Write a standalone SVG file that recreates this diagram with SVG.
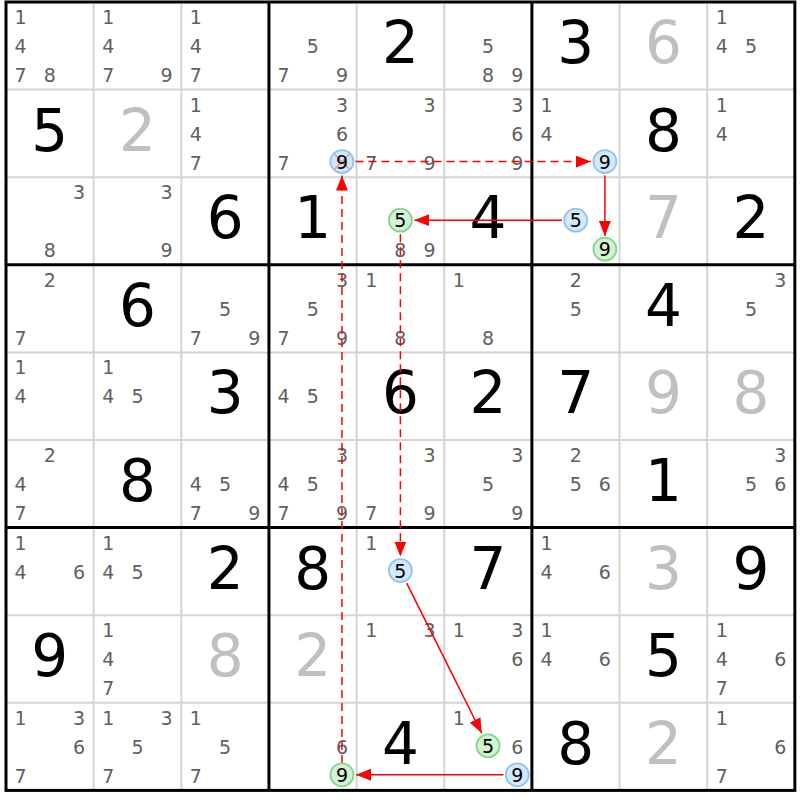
<svg xmlns="http://www.w3.org/2000/svg" width="800" height="800" viewBox="0 0 800 800">
<style>
text{font-family:"DejaVu Sans","Liberation Sans",sans-serif;text-anchor:middle}
.c{font-size:19px;fill:#5f5f5f}
.g{font-size:58px;fill:#000}
.s{font-size:58px;fill:#c0c0c0}
.k{font-size:19px;fill:#000}
.thin{stroke:#d4d4d4;stroke-width:2}
.thick{stroke:#000;stroke-width:3;fill:none}
.ln{stroke:#ff0000;stroke-width:1.5;fill:none;marker-end:url(#ah)}
.dash{stroke-dasharray:8 5}
.blue{fill:#d2e8fb;stroke:#8fc3f2;stroke-width:1.8}
.green{fill:#d2f2d2;stroke:#7fd68c;stroke-width:1.8}
.x{stroke:#f09a9a;stroke-width:1.5}
</style>
<defs>
<marker id="ah" markerUnits="userSpaceOnUse" markerWidth="15" markerHeight="12" refX="15" refY="6" orient="auto">
<path d="M0,0 L15,6 L0,12 z" fill="#ff0000"/>
</marker>
</defs>
<rect width="800" height="800" fill="#fff"/>
<g id="grid">
<g class="thin">
<line x1="93.65" y1="2" x2="93.65" y2="790.4"/><line x1="181.3" y1="2" x2="181.3" y2="790.4"/>
<line x1="356.6" y1="2" x2="356.6" y2="790.4"/><line x1="444.25" y1="2" x2="444.25" y2="790.4"/>
<line x1="619.55" y1="2" x2="619.55" y2="790.4"/><line x1="707.2" y1="2" x2="707.2" y2="790.4"/>
<line x1="6" y1="89.6" x2="794.85" y2="89.6"/><line x1="6" y1="177.2" x2="794.85" y2="177.2"/>
<line x1="6" y1="352.4" x2="794.85" y2="352.4"/><line x1="6" y1="440" x2="794.85" y2="440"/>
<line x1="6" y1="615.2" x2="794.85" y2="615.2"/><line x1="6" y1="702.8" x2="794.85" y2="702.8"/>
</g>
<g class="thick">
<line x1="268.95" y1="2" x2="268.95" y2="790.4"/><line x1="531.9" y1="2" x2="531.9" y2="790.4"/>
<line x1="6" y1="264.8" x2="794.85" y2="264.8"/><line x1="6" y1="527.6" x2="794.85" y2="527.6"/>
<rect x="6" y="2" width="788.85" height="788.4"/>
</g>
</g>
<!-- Row 1 -->
<g id="r1c1" transform="translate(6,2)"><text class="c" x="14.6" y="22">1</text><text class="c" x="14.6" y="51">4</text><text class="c" x="14.6" y="80">7</text><text class="c" x="43.8" y="80">8</text></g>
<g id="r1c2" transform="translate(93.65,2)"><text class="c" x="14.6" y="22">1</text><text class="c" x="14.6" y="51">4</text><text class="c" x="14.6" y="80">7</text><text class="c" x="73" y="80">9</text></g>
<g id="r1c3" transform="translate(181.3,2)"><text class="c" x="14.6" y="22">1</text><text class="c" x="14.6" y="51">4</text><text class="c" x="14.6" y="80">7</text></g>
<g id="r1c4" transform="translate(268.95,2)"><text class="c" x="43.8" y="51">5</text><text class="c" x="14.6" y="80">7</text><text class="c" x="73" y="80">9</text></g>
<g id="r1c5" transform="translate(356.6,2)"><text class="g" x="43.8" y="61">2</text></g>
<g id="r1c6" transform="translate(444.25,2)"><text class="c" x="43.8" y="51">5</text><text class="c" x="43.8" y="80">8</text><text class="c" x="73" y="80">9</text></g>
<g id="r1c7" transform="translate(531.9,2)"><text class="g" x="43.8" y="61">3</text></g>
<g id="r1c8" transform="translate(619.55,2)"><text class="s" x="43.8" y="61">6</text></g>
<g id="r1c9" transform="translate(707.2,2)"><text class="c" x="14.6" y="22">1</text><text class="c" x="14.6" y="51">4</text><text class="c" x="43.8" y="51">5</text></g>
<!-- Row 2 -->
<g id="r2c1" transform="translate(6,89.6)"><text class="g" x="43.8" y="61">5</text></g>
<g id="r2c2" transform="translate(93.65,89.6)"><text class="s" x="43.8" y="61">2</text></g>
<g id="r2c3" transform="translate(181.3,89.6)"><text class="c" x="14.6" y="22">1</text><text class="c" x="14.6" y="51">4</text><text class="c" x="14.6" y="80">7</text></g>
<g id="r2c4" transform="translate(268.95,89.6)"><text class="c" x="73" y="22">3</text><text class="c" x="73" y="51">6</text><text class="c" x="14.6" y="80">7</text></g>
<g id="r2c5" transform="translate(356.6,89.6)"><text class="c" x="73" y="22">3</text><text class="c" x="14.6" y="80">7</text><text class="c" x="73" y="80">9</text></g>
<g id="r2c6" transform="translate(444.25,89.6)"><text class="c" x="73" y="22">3</text><text class="c" x="73" y="51">6</text><text class="c" x="73" y="80">9</text></g>
<g id="r2c7" transform="translate(531.9,89.6)"><text class="c" x="14.6" y="22">1</text><text class="c" x="14.6" y="51">4</text></g>
<g id="r2c8" transform="translate(619.55,89.6)"><text class="g" x="43.8" y="61">8</text></g>
<g id="r2c9" transform="translate(707.2,89.6)"><text class="c" x="14.6" y="22">1</text><text class="c" x="14.6" y="51">4</text></g>
<!-- Row 3 -->
<g id="r3c1" transform="translate(6,177.2)"><text class="c" x="73" y="22">3</text><text class="c" x="43.8" y="80">8</text></g>
<g id="r3c2" transform="translate(93.65,177.2)"><text class="c" x="73" y="22">3</text><text class="c" x="73" y="80">9</text></g>
<g id="r3c3" transform="translate(181.3,177.2)"><text class="g" x="43.8" y="61">6</text></g>
<g id="r3c4" transform="translate(268.95,177.2)"><text class="g" x="43.8" y="61">1</text></g>
<g id="r3c5" transform="translate(356.6,177.2)"><text class="c" x="43.8" y="80">8</text><text class="c" x="73" y="80">9</text></g>
<g id="r3c6" transform="translate(444.25,177.2)"><text class="g" x="43.8" y="61">4</text></g>
<g id="r3c7" transform="translate(531.9,177.2)"></g>
<g id="r3c8" transform="translate(619.55,177.2)"><text class="s" x="43.8" y="61">7</text></g>
<g id="r3c9" transform="translate(707.2,177.2)"><text class="g" x="43.8" y="61">2</text></g>
<!-- Row 4 -->
<g id="r4c1" transform="translate(6,264.8)"><text class="c" x="43.8" y="22">2</text><text class="c" x="14.6" y="80">7</text></g>
<g id="r4c2" transform="translate(93.65,264.8)"><text class="g" x="43.8" y="61">6</text></g>
<g id="r4c3" transform="translate(181.3,264.8)"><text class="c" x="43.8" y="51">5</text><text class="c" x="14.6" y="80">7</text><text class="c" x="73" y="80">9</text></g>
<g id="r4c4" transform="translate(268.95,264.8)"><text class="c" x="73" y="22">3</text><text class="c" x="43.8" y="51">5</text><text class="c" x="14.6" y="80">7</text><text class="c" x="73" y="80">9</text></g>
<g id="r4c5" transform="translate(356.6,264.8)"><text class="c" x="14.6" y="22">1</text><text class="c" x="43.8" y="80">8</text></g>
<g id="r4c6" transform="translate(444.25,264.8)"><text class="c" x="14.6" y="22">1</text><text class="c" x="43.8" y="80">8</text></g>
<g id="r4c7" transform="translate(531.9,264.8)"><text class="c" x="43.8" y="22">2</text><text class="c" x="43.8" y="51">5</text></g>
<g id="r4c8" transform="translate(619.55,264.8)"><text class="g" x="43.8" y="61">4</text></g>
<g id="r4c9" transform="translate(707.2,264.8)"><text class="c" x="73" y="22">3</text><text class="c" x="43.8" y="51">5</text></g>
<!-- Row 5 -->
<g id="r5c1" transform="translate(6,352.4)"><text class="c" x="14.6" y="22">1</text><text class="c" x="14.6" y="51">4</text></g>
<g id="r5c2" transform="translate(93.65,352.4)"><text class="c" x="14.6" y="22">1</text><text class="c" x="14.6" y="51">4</text><text class="c" x="43.8" y="51">5</text></g>
<g id="r5c3" transform="translate(181.3,352.4)"><text class="g" x="43.8" y="61">3</text></g>
<g id="r5c4" transform="translate(268.95,352.4)"><text class="c" x="14.6" y="51">4</text><text class="c" x="43.8" y="51">5</text></g>
<g id="r5c5" transform="translate(356.6,352.4)"><text class="g" x="43.8" y="61">6</text></g>
<g id="r5c6" transform="translate(444.25,352.4)"><text class="g" x="43.8" y="61">2</text></g>
<g id="r5c7" transform="translate(531.9,352.4)"><text class="g" x="43.8" y="61">7</text></g>
<g id="r5c8" transform="translate(619.55,352.4)"><text class="s" x="43.8" y="61">9</text></g>
<g id="r5c9" transform="translate(707.2,352.4)"><text class="s" x="43.8" y="61">8</text></g>
<!-- Row 6 -->
<g id="r6c1" transform="translate(6,440)"><text class="c" x="43.8" y="22">2</text><text class="c" x="14.6" y="51">4</text><text class="c" x="14.6" y="80">7</text></g>
<g id="r6c2" transform="translate(93.65,440)"><text class="g" x="43.8" y="61">8</text></g>
<g id="r6c3" transform="translate(181.3,440)"><text class="c" x="14.6" y="51">4</text><text class="c" x="43.8" y="51">5</text><text class="c" x="14.6" y="80">7</text><text class="c" x="73" y="80">9</text></g>
<g id="r6c4" transform="translate(268.95,440)"><text class="c" x="73" y="22">3</text><text class="c" x="14.6" y="51">4</text><text class="c" x="43.8" y="51">5</text><text class="c" x="14.6" y="80">7</text><text class="c" x="73" y="80">9</text></g>
<g id="r6c5" transform="translate(356.6,440)"><text class="c" x="73" y="22">3</text><text class="c" x="14.6" y="80">7</text><text class="c" x="73" y="80">9</text></g>
<g id="r6c6" transform="translate(444.25,440)"><text class="c" x="73" y="22">3</text><text class="c" x="43.8" y="51">5</text><text class="c" x="73" y="80">9</text></g>
<g id="r6c7" transform="translate(531.9,440)"><text class="c" x="43.8" y="22">2</text><text class="c" x="43.8" y="51">5</text><text class="c" x="73" y="51">6</text></g>
<g id="r6c8" transform="translate(619.55,440)"><text class="g" x="43.8" y="61">1</text></g>
<g id="r6c9" transform="translate(707.2,440)"><text class="c" x="73" y="22">3</text><text class="c" x="43.8" y="51">5</text><text class="c" x="73" y="51">6</text></g>
<!-- Row 7 -->
<g id="r7c1" transform="translate(6,527.6)"><text class="c" x="14.6" y="22">1</text><text class="c" x="14.6" y="51">4</text><text class="c" x="73" y="51">6</text></g>
<g id="r7c2" transform="translate(93.65,527.6)"><text class="c" x="14.6" y="22">1</text><text class="c" x="14.6" y="51">4</text><text class="c" x="43.8" y="51">5</text></g>
<g id="r7c3" transform="translate(181.3,527.6)"><text class="g" x="43.8" y="61">2</text></g>
<g id="r7c4" transform="translate(268.95,527.6)"><text class="g" x="43.8" y="61">8</text></g>
<g id="r7c5" transform="translate(356.6,527.6)"><text class="c" x="14.6" y="22">1</text></g>
<g id="r7c6" transform="translate(444.25,527.6)"><text class="g" x="43.8" y="61">7</text></g>
<g id="r7c7" transform="translate(531.9,527.6)"><text class="c" x="14.6" y="22">1</text><text class="c" x="14.6" y="51">4</text><text class="c" x="73" y="51">6</text></g>
<g id="r7c8" transform="translate(619.55,527.6)"><text class="s" x="43.8" y="61">3</text></g>
<g id="r7c9" transform="translate(707.2,527.6)"><text class="g" x="43.8" y="61">9</text></g>
<!-- Row 8 -->
<g id="r8c1" transform="translate(6,615.2)"><text class="g" x="43.8" y="61">9</text></g>
<g id="r8c2" transform="translate(93.65,615.2)"><text class="c" x="14.6" y="22">1</text><text class="c" x="14.6" y="51">4</text><text class="c" x="14.6" y="80">7</text></g>
<g id="r8c3" transform="translate(181.3,615.2)"><text class="s" x="43.8" y="61">8</text></g>
<g id="r8c4" transform="translate(268.95,615.2)"><text class="s" x="43.8" y="61">2</text></g>
<g id="r8c5" transform="translate(356.6,615.2)"><text class="c" x="14.6" y="22">1</text><text class="c" x="73" y="22">3</text></g>
<g id="r8c6" transform="translate(444.25,615.2)"><text class="c" x="14.6" y="22">1</text><text class="c" x="73" y="22">3</text><text class="c" x="73" y="51">6</text></g>
<g id="r8c7" transform="translate(531.9,615.2)"><text class="c" x="14.6" y="22">1</text><text class="c" x="14.6" y="51">4</text><text class="c" x="73" y="51">6</text></g>
<g id="r8c8" transform="translate(619.55,615.2)"><text class="g" x="43.8" y="61">5</text></g>
<g id="r8c9" transform="translate(707.2,615.2)"><text class="c" x="14.6" y="22">1</text><text class="c" x="14.6" y="51">4</text><text class="c" x="73" y="51">6</text><text class="c" x="14.6" y="80">7</text></g>
<!-- Row 9 -->
<g id="r9c1" transform="translate(6,702.8)"><text class="c" x="14.6" y="22">1</text><text class="c" x="73" y="22">3</text><text class="c" x="73" y="51">6</text><text class="c" x="14.6" y="80">7</text></g>
<g id="r9c2" transform="translate(93.65,702.8)"><text class="c" x="14.6" y="22">1</text><text class="c" x="73" y="22">3</text><text class="c" x="43.8" y="51">5</text><text class="c" x="14.6" y="80">7</text></g>
<g id="r9c3" transform="translate(181.3,702.8)"><text class="c" x="14.6" y="22">1</text><text class="c" x="43.8" y="51">5</text><text class="c" x="14.6" y="80">7</text></g>
<g id="r9c4" transform="translate(268.95,702.8)"><text class="c" x="73" y="51">6</text></g>
<g id="r9c5" transform="translate(356.6,702.8)"><text class="g" x="43.8" y="61">4</text></g>
<g id="r9c6" transform="translate(444.25,702.8)"><text class="c" x="14.6" y="22">1</text><text class="c" x="73" y="51">6</text></g>
<g id="r9c7" transform="translate(531.9,702.8)"><text class="g" x="43.8" y="61">8</text></g>
<g id="r9c8" transform="translate(619.55,702.8)"><text class="s" x="43.8" y="61">2</text></g>
<g id="r9c9" transform="translate(707.2,702.8)"><text class="c" x="14.6" y="22">1</text><text class="c" x="73" y="51">6</text><text class="c" x="14.6" y="80">7</text></g>
<!-- Connectors -->
<g id="connectors">
<line class="ln dash" x1="341.95" y1="763" x2="341.95" y2="175.6"/>
<line class="ln dash" x1="355.5" y1="161.6" x2="590.9" y2="161.6"/>
<line class="ln" x1="604.9" y1="175.6" x2="604.9" y2="236"/>
<line class="ln" x1="562" y1="220.2" x2="414.4" y2="220.2"/>
<line class="ln dash" x1="400.4" y1="234.2" x2="400.4" y2="556.6"/>
<line class="ln" x1="406.7" y1="583.1" x2="481.8" y2="733.3"/>
<line class="ln" x1="503.5" y1="774.8" x2="356" y2="774.8"/>
</g>
<!-- Chain nodes -->
<g id="n-r2c4-9"><circle class="blue" cx="341.95" cy="161.6" r="11.5"/><line class="x" x1="334" y1="153.6" x2="350" y2="169.6"/><line class="x" x1="350" y1="153.6" x2="334" y2="169.6"/><text class="k" x="341.95" y="168.5">9</text></g>
<g id="n-r2c7-9"><circle class="blue" cx="604.9" cy="161.6" r="11.5"/><text class="k" x="604.9" y="168.5">9</text></g>
<g id="n-r3c7-9"><circle class="green" cx="604.9" cy="249.2" r="11.5"/><text class="k" x="604.9" y="256.1">9</text></g>
<g id="n-r3c7-5"><circle class="blue" cx="575.7" cy="220.2" r="11.5"/><text class="k" x="575.7" y="227.1">5</text></g>
<g id="n-r3c5-5"><circle class="green" cx="400.4" cy="220.2" r="11.5"/><text class="k" x="400.4" y="227.1">5</text></g>
<g id="n-r7c5-5"><circle class="blue" cx="400.4" cy="570.6" r="11.5"/><text class="k" x="400.4" y="577.5">5</text></g>
<g id="n-r9c6-5"><circle class="green" cx="488.05" cy="745.8" r="11.5"/><text class="k" x="488.05" y="752.7">5</text></g>
<g id="n-r9c6-9"><circle class="blue" cx="517.25" cy="774.8" r="11.5"/><text class="k" x="517.25" y="781.7">9</text></g>
<g id="n-r9c4-9"><circle class="green" cx="341.95" cy="774.8" r="11.5"/><text class="k" x="341.95" y="781.7">9</text></g>
</svg>
